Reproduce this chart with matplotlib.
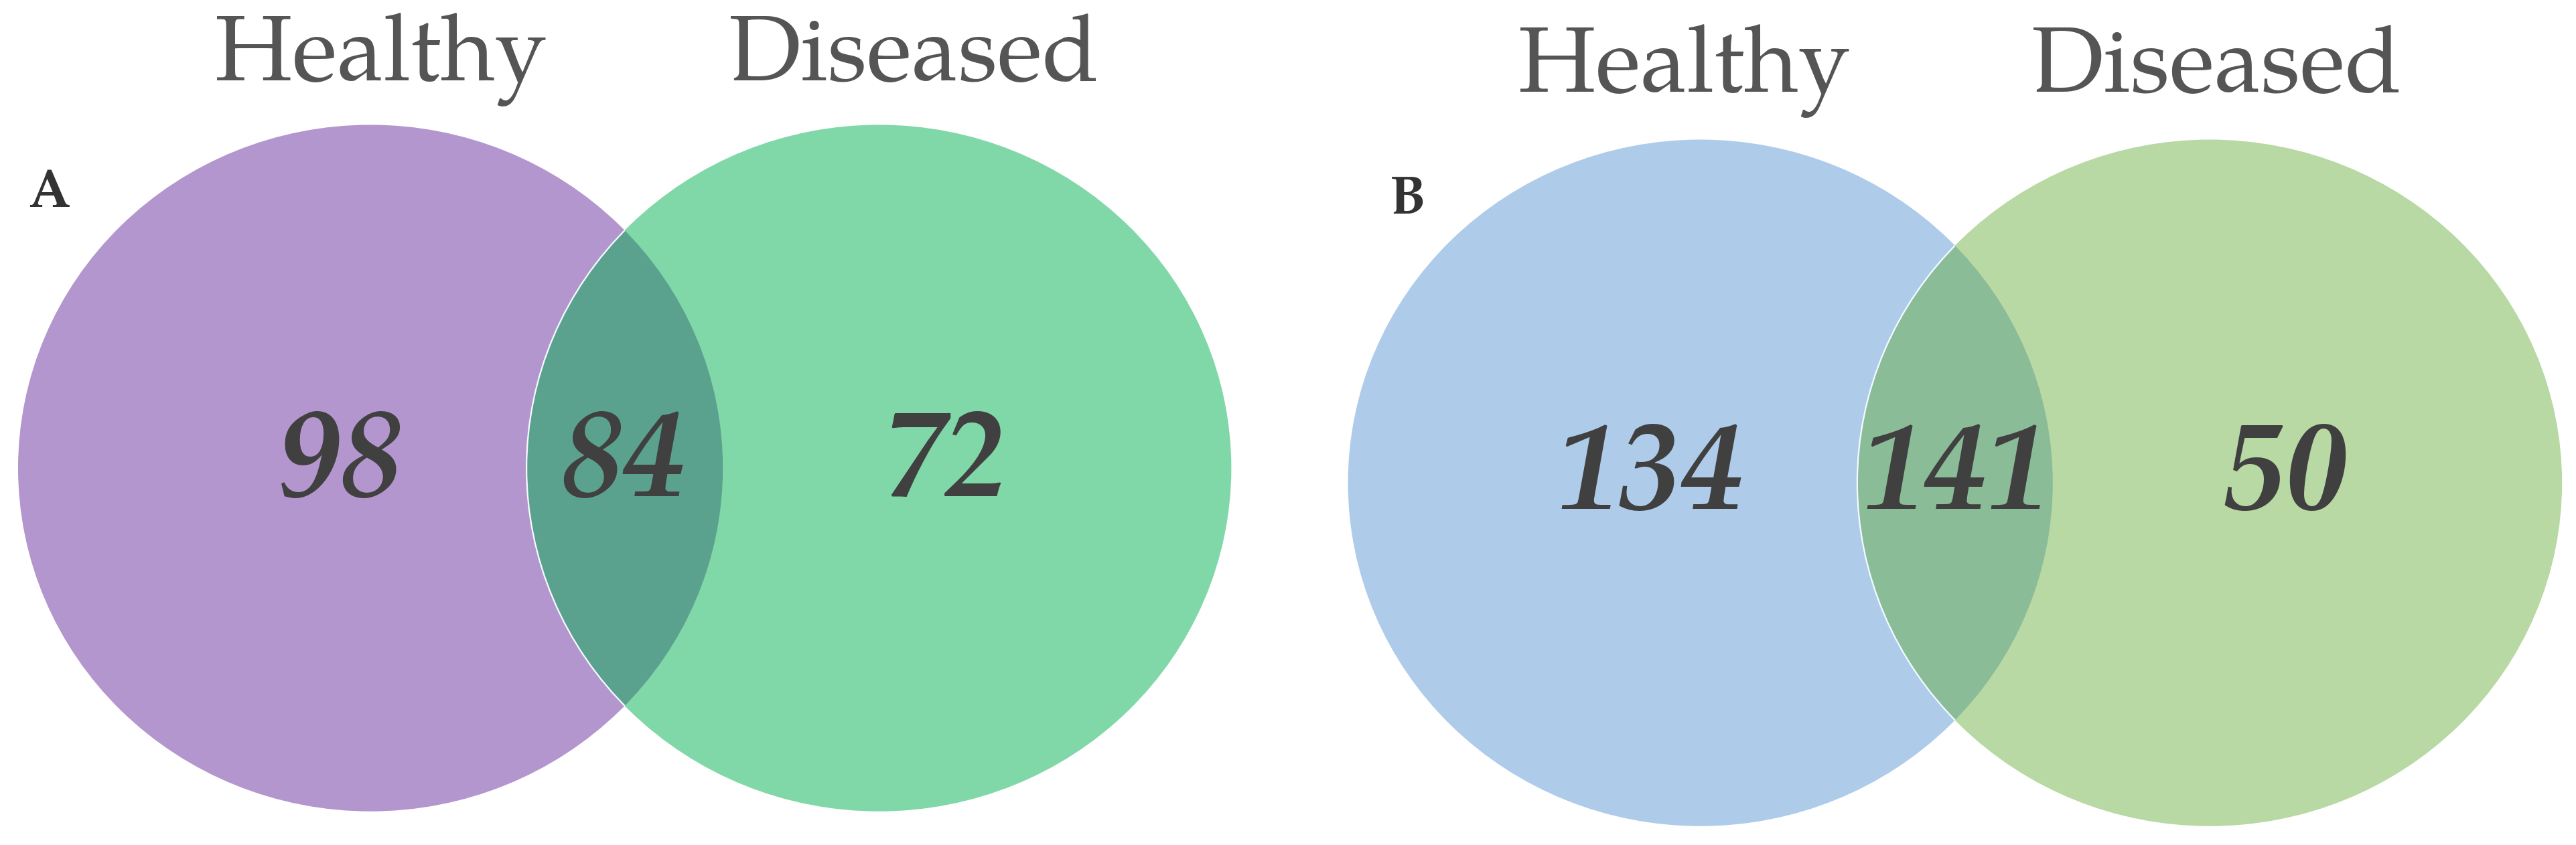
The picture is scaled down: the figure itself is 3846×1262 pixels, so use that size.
import matplotlib
matplotlib.use("Agg")
import matplotlib.pyplot as plt
from matplotlib.patches import Ellipse

# ---- data ----
set_names = ["Healthy", "Diseased"]
panel_labels = ["A", "B"]
only_healthy = [98, 134]
shared = [84, 141]
only_diseased = [72, 50]

# ---- styles ----
left_colors = ["#B496CE", "#AECCEA"]
right_colors = ["#80D7A8", "#B8D8A4"]
overlap_colors = ["#5BA28E", "#8BBC98"]

# layout in reference display units (1568 x 514.5)
W, H = 1568, 514.5
panel_left_cx = [225.5, 1035]
panel_right_cx = [535, 1345]
panel_cy = [285, 294]
ew, eh = 429, 418
title_x = [(232, 556), (1025, 1349)]
title_y = [49, 56]
label_pos = [(17, 126), (846, 130)]
num_x = [(207, 379, 575), (1004, 1190, 1391)]
num_y = [302, 310]

fig = plt.figure(figsize=(38.46, 12.62), dpi=100)
ax = fig.add_axes([0, 0, 1, 1])
ax.set_xlim(0, W)
ax.set_ylim(H, 0)
ax.axis("off")

serif = ["TeX Gyre Pagella", "Liberation Serif", "DejaVu Serif"]
txt_col = "#404040"
lab_col = "#555555"

for i in range(2):
    lcx, rcx, cy = panel_left_cx[i], panel_right_cx[i], panel_cy[i]
    left = Ellipse((lcx, cy), ew, eh, facecolor=left_colors[i], edgecolor="none", zorder=1)
    ax.add_patch(left)
    right = Ellipse((rcx, cy), ew, eh, facecolor=right_colors[i], edgecolor="none", zorder=2)
    ax.add_patch(right)
    ov = Ellipse((rcx, cy), ew, eh, facecolor=overlap_colors[i], edgecolor="none", zorder=3)
    ax.add_patch(ov)
    ov.set_clip_path(left)
    edge = Ellipse((rcx, cy), ew, eh, facecolor="none", edgecolor="#f4fbff", linewidth=1.6, zorder=4)
    ax.add_patch(edge)
    edge.set_clip_path(left)

    for name, x in zip(set_names, title_x[i]):
        ax.text(x, title_y[i], name, ha="center", va="baseline",
                fontsize=100, family=serif, color=lab_col)

    ax.text(label_pos[i][0], label_pos[i][1], panel_labels[i], ha="left", va="baseline",
            fontsize=58, family=serif, fontweight="bold", color="#333333")

    vals = [only_healthy[i], shared[i], only_diseased[i]]
    for x, v in zip(num_x[i], vals):
        ax.text(x, num_y[i], str(v), ha="center", va="baseline", fontsize=134,
                family=serif, fontweight="bold", fontstyle="italic", color=txt_col, zorder=5)

fig.savefig("out.png", dpi=100, facecolor="white")
